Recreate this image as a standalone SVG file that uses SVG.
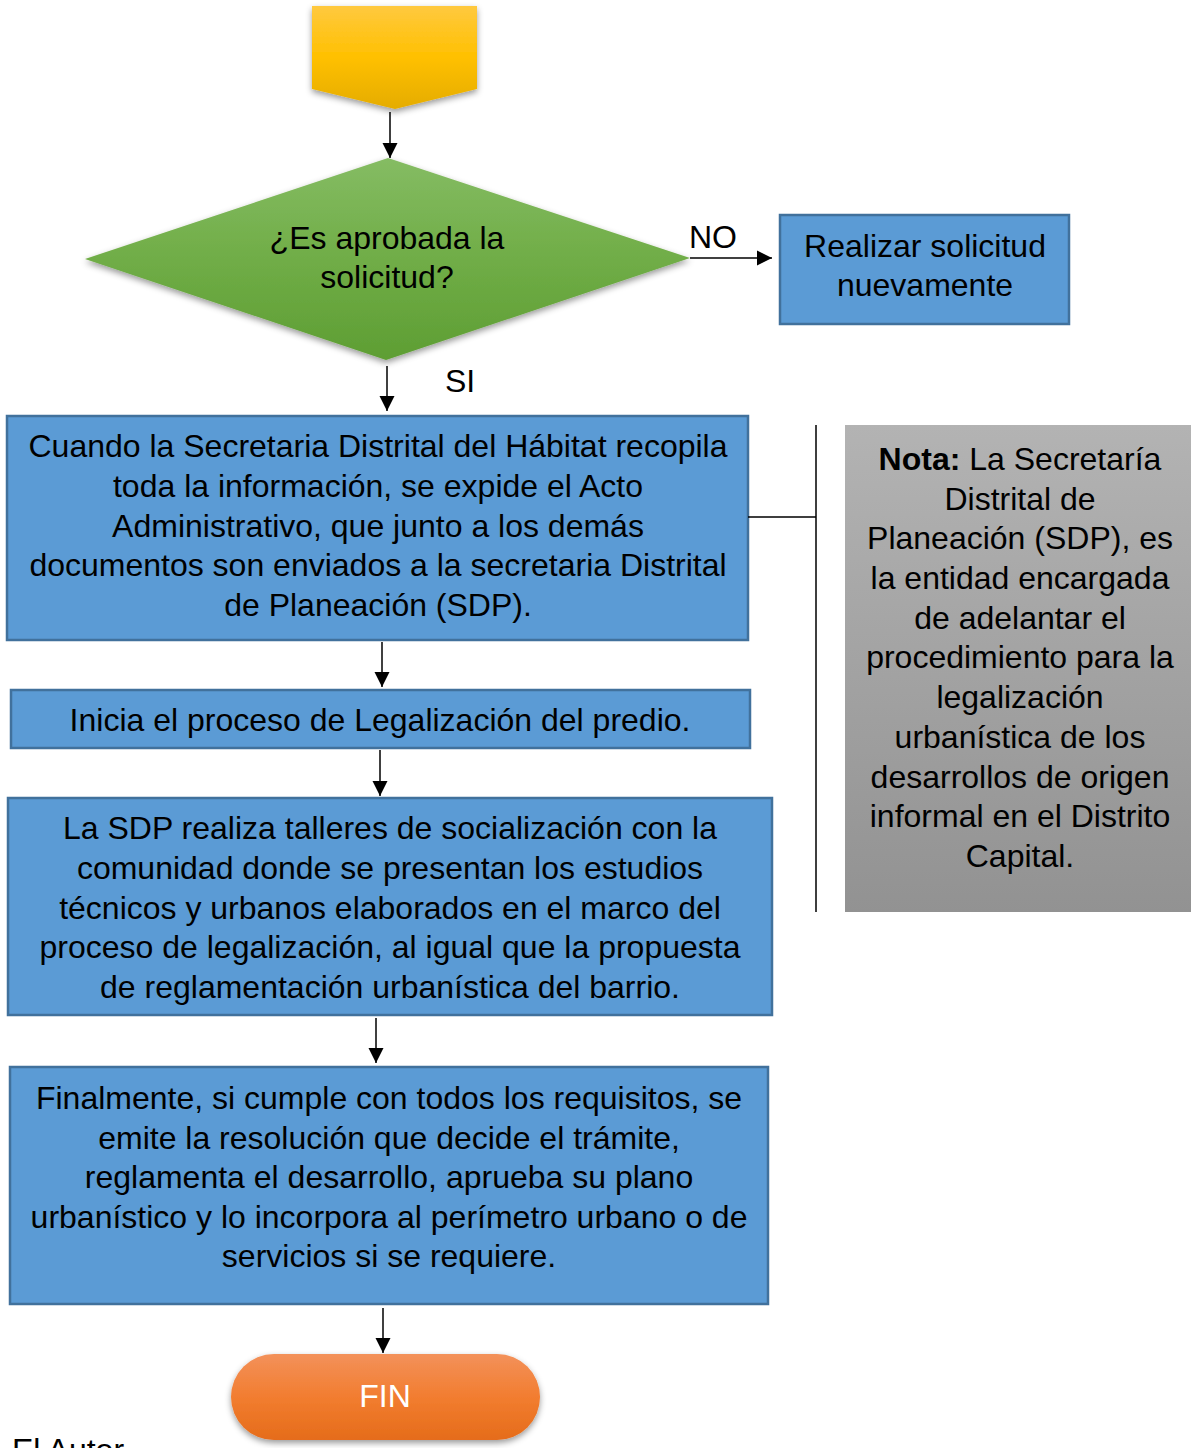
<svg xmlns="http://www.w3.org/2000/svg" width="1191" height="1448" viewBox="0 0 1191 1448">
<defs>
<linearGradient id="gY" x1="0" y1="0" x2="0" y2="1"><stop offset="0" stop-color="#FFC93F"/><stop offset="0.5" stop-color="#FFC000"/><stop offset="1" stop-color="#E5AC00"/></linearGradient>
<linearGradient id="gG" x1="0" y1="0" x2="0" y2="1"><stop offset="0" stop-color="#85BC63"/><stop offset="0.5" stop-color="#70AD47"/><stop offset="1" stop-color="#5E9E33"/></linearGradient>
<linearGradient id="gO" x1="0" y1="0" x2="0" y2="1"><stop offset="0" stop-color="#F3915A"/><stop offset="0.5" stop-color="#F27D30"/><stop offset="1" stop-color="#E56C1A"/></linearGradient>
<linearGradient id="gS" x1="0" y1="0" x2="0" y2="1"><stop offset="0" stop-color="#B3B3B3"/><stop offset="1" stop-color="#929292"/></linearGradient>
<filter id="sh" x="-10%" y="-10%" width="120%" height="130%"><feDropShadow dx="0" dy="3" stdDeviation="3" flood-color="#000" flood-opacity="0.4"/></filter>
<marker id="ar" markerWidth="16" markerHeight="16" refX="15" refY="8" orient="auto" markerUnits="userSpaceOnUse"><path d="M0,0.5 L15,8 L0,15.5 Z" fill="#000"/></marker>
</defs>
<style>
text{font-family:"Liberation Sans",Arial,sans-serif;font-size:32px;fill:#000;text-anchor:middle}
.box{fill:#5B9BD5;stroke:#41719C;stroke-width:2.5}
.cn{stroke:#000;stroke-width:1.5;fill:none}
.ar{marker-end:url(#ar)}
</style>
<g id="start"><path d="M312,6 H477 V89 L395,109 L312,89 Z" fill="url(#gY)" filter="url(#sh)"/></g>
<g id="decision"><path d="M85,259 L388,158 L690,258 L386,360 Z" fill="url(#gG)" filter="url(#sh)"/>
<text x="387" y="249">¿Es aprobada la</text><text x="387" y="288">solicitud?</text></g>
<g id="realizar"><rect class="box" x="780" y="215" width="289" height="109"/>
<text x="925" y="257">Realizar solicitud</text><text x="925" y="296">nuevamente</text></g>
<g id="box1"><rect class="box" x="7" y="416" width="741" height="224"/>
<text x="378" y="457">Cuando la Secretaria Distrital del Hábitat recopila</text>
<text x="378" y="497">toda la información, se expide el Acto</text>
<text x="378" y="537">Administrativo, que junto a los demás</text>
<text x="378" y="576">documentos son enviados a la secretaria Distrital</text>
<text x="378" y="616">de Planeación (SDP).</text></g>
<g id="box2"><rect class="box" x="11" y="690" width="739" height="58"/>
<text x="380" y="731">Inicia el proceso de Legalización del predio.</text></g>
<g id="box3"><rect class="box" x="8" y="798" width="764" height="217"/>
<text x="390" y="839">La SDP realiza talleres de socialización con la</text>
<text x="390" y="879">comunidad donde se presentan los estudios</text>
<text x="390" y="919">técnicos y urbanos elaborados en el marco del</text>
<text x="390" y="958">proceso de legalización, al igual que la propuesta</text>
<text x="390" y="998">de reglamentación urbanística del barrio.</text></g>
<g id="box4"><rect class="box" x="10" y="1067" width="758" height="237"/>
<text x="389" y="1109">Finalmente, si cumple con todos los requisitos, se</text>
<text x="389" y="1149">emite la resolución que decide el trámite,</text>
<text x="389" y="1188">reglamenta el desarrollo, aprueba su plano</text>
<text x="389" y="1228">urbanístico y lo incorpora al perímetro urbano o de</text>
<text x="389" y="1267">servicios si se requiere.</text></g>
<g id="fin"><rect x="231" y="1354" width="309" height="86" rx="43" fill="url(#gO)" filter="url(#sh)"/>
<text x="385" y="1407" style="fill:#fff">FIN</text></g>
<g id="nota"><rect x="845" y="425" width="346" height="487" fill="url(#gS)"/>
<text x="1020" y="470"><tspan font-weight="bold">Nota:</tspan> La Secretaría</text>
<text x="1020" y="510">Distrital de</text>
<text x="1020" y="549">Planeación (SDP), es</text>
<text x="1020" y="589">la entidad encargada</text>
<text x="1020" y="629">de adelantar el</text>
<text x="1020" y="668">procedimiento para la</text>
<text x="1020" y="708">legalización</text>
<text x="1020" y="748">urbanística de los</text>
<text x="1020" y="788">desarrollos de origen</text>
<text x="1020" y="827">informal en el Distrito</text>
<text x="1020" y="867">Capital.</text></g>
<g id="connectors">
<line class="cn ar" x1="390" y1="112" x2="390" y2="158"/>
<line class="cn ar" x1="690" y1="258" x2="772" y2="258"/>
<line class="cn ar" x1="387" y1="366" x2="387" y2="411"/>
<line class="cn ar" x1="382" y1="642" x2="382" y2="687"/>
<line class="cn ar" x1="380" y1="750" x2="380" y2="796"/>
<line class="cn ar" x1="376" y1="1018" x2="376" y2="1063"/>
<line class="cn ar" x1="383" y1="1308" x2="383" y2="1353"/>
<path class="cn" d="M748,517 H816 M816,425 V912"/>
<text x="713" y="248">NO</text>
<text x="460" y="392">SI</text>
</g>
<text x="12" y="1461" style="text-anchor:start">El Autor</text>
</svg>
